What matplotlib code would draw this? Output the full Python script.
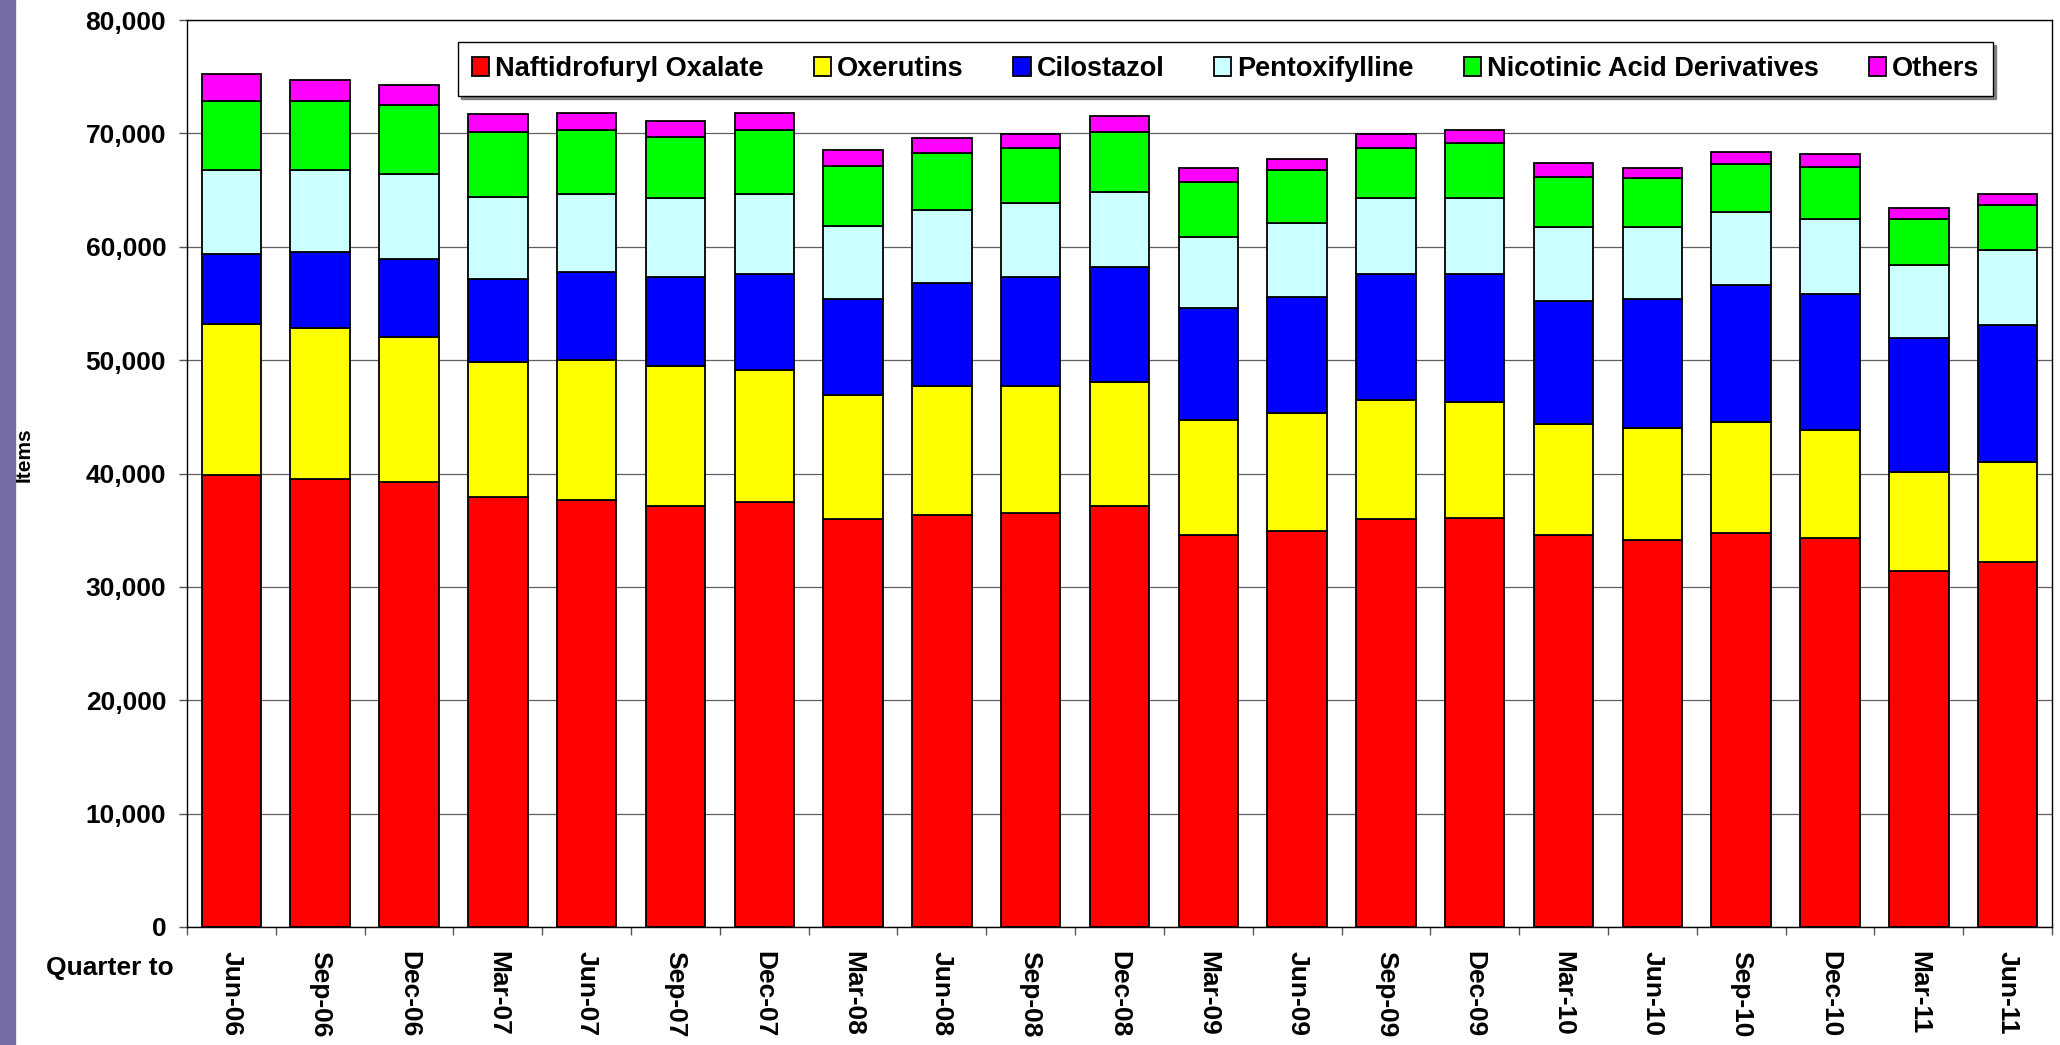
import matplotlib
matplotlib.use("Agg")
import matplotlib.pyplot as plt
import numpy as np
from matplotlib.ticker import FuncFormatter, MultipleLocator
from matplotlib.patches import Rectangle

quarters = ["Jun-06", "Sep-06", "Dec-06", "Mar-07", "Jun-07", "Sep-07", "Dec-07",
            "Mar-08", "Jun-08", "Sep-08", "Dec-08", "Mar-09", "Jun-09", "Sep-09",
            "Dec-09", "Mar-10", "Jun-10", "Sep-10", "Dec-10", "Mar-11", "Jun-11"]

# items per drug group
naftidrofuryl = [39900, 39500, 39250, 37900, 37700, 37100, 37450, 35950, 36300, 36500, 37100,
                 34550, 34950, 35950, 36100, 34550, 34150, 34750, 34350, 31400, 32200]
oxerutins = [13300, 13300, 12750, 11950, 12350, 12400, 11650, 10950, 11400, 11200, 10980,
             10200, 10420, 10570, 10240, 9840, 9830, 9820, 9450, 8690, 8830]
cilostazol = [6150, 6700, 6950, 7300, 7700, 7850, 8500, 8470, 9080, 9640, 10090,
              9850, 10230, 11060, 11240, 10830, 11420, 12040, 12010, 11830, 12040]
pentoxifylline = [7450, 7300, 7500, 7280, 6870, 6940, 7080, 6490, 6490, 6490, 6670,
                  6280, 6460, 6700, 6700, 6490, 6310, 6460, 6670, 6460, 6660]
nicotinic = [6050, 6070, 6050, 5700, 5670, 5420, 5660, 5280, 4990, 4900, 5250,
             4870, 4750, 4450, 4860, 4450, 4340, 4250, 4540, 4070, 3930]
others = [2350, 1830, 1800, 1620, 1470, 1420, 1420, 1380, 1300, 1240, 1410,
          1240, 950, 1180, 1180, 1210, 910, 1060, 1120, 1000, 970]

series = [("Naftidrofuryl Oxalate", naftidrofuryl, "#FF0000"),
          ("Oxerutins", oxerutins, "#FFFF00"),
          ("Cilostazol", cilostazol, "#0000FF"),
          ("Pentoxifylline", pentoxifylline, "#CCFFFF"),
          ("Nicotinic Acid Derivatives", nicotinic, "#00FF00"),
          ("Others", others, "#FF00FF")]

plt.rcParams["font.family"] = ["Liberation Sans", "DejaVu Sans"]
plt.rcParams["font.weight"] = "bold"

fig = plt.figure(figsize=(20.6, 10.45), dpi=100)
ax = fig.add_axes([187 / 2060, 1 - 927 / 1045, (2052 - 187) / 2060, (927 - 20) / 1045])

# purple strip on the left edge
fig.patches.append(Rectangle((0, 0), 15 / 2060, 1, transform=fig.transFigure,
                             color="#776BA6", zorder=0))

x = np.arange(len(quarters))
bottom = np.zeros(len(quarters))
for name, vals, col in series:
    ax.bar(x, vals, width=0.67, bottom=bottom, color=col, edgecolor="black",
           linewidth=1.3, label=name, zorder=3)
    bottom += np.array(vals)

ax.set_xlim(-0.5, len(quarters) - 0.5)
ax.set_ylim(0, 80000)
ax.yaxis.set_major_locator(MultipleLocator(10000))
ax.yaxis.set_major_formatter(FuncFormatter(lambda v, p: f"{int(v):,}"))
ax.grid(axis="y", color="#606060", linewidth=0.9, zorder=0)
ax.set_axisbelow(True)

ax.set_xticks(x)
ax.set_xticklabels(quarters, rotation=-90, va="top", ha="center")
ax.set_xticks(np.arange(-0.5, len(quarters)), minor=True)
ax.tick_params(axis="x", which="major", length=0, pad=17, labelsize=19)
ax.tick_params(axis="x", which="minor", length=6, width=1, color="#555555")
ax.tick_params(axis="y", length=6, width=1, color="#555555", pad=9, labelsize=19)

for s in ax.spines.values():
    s.set_linewidth(1.0)
    s.set_color("black")

fig.text(24 / 2060, 1 - 455 / 1045, "Items", rotation=90, ha="center", va="center",
         fontsize=15, fontweight="bold")
fig.text(174 / 2060, 1 - 968 / 1045, "Quarter to", ha="right", va="center",
         fontsize=19, fontweight="bold")

leg = ax.legend(loc="upper left", bbox_to_anchor=(458 / 2060, 1 - 42 / 1045),
                bbox_transform=fig.transFigure, ncol=6, frameon=True, fancybox=False,
                shadow={"color": "#808080", "alpha": 1.0}, borderaxespad=0,
                prop={"weight": "bold", "size": 19.5},
                handlelength=0.63, handleheight=0.72, handletextpad=0.22,
                columnspacing=1.85, borderpad=0.52)
leg.get_frame().set_edgecolor("black")
leg.get_frame().set_linewidth(1.0)
leg.set_zorder(5)

fig.savefig("out.png", dpi=100, facecolor="white")
